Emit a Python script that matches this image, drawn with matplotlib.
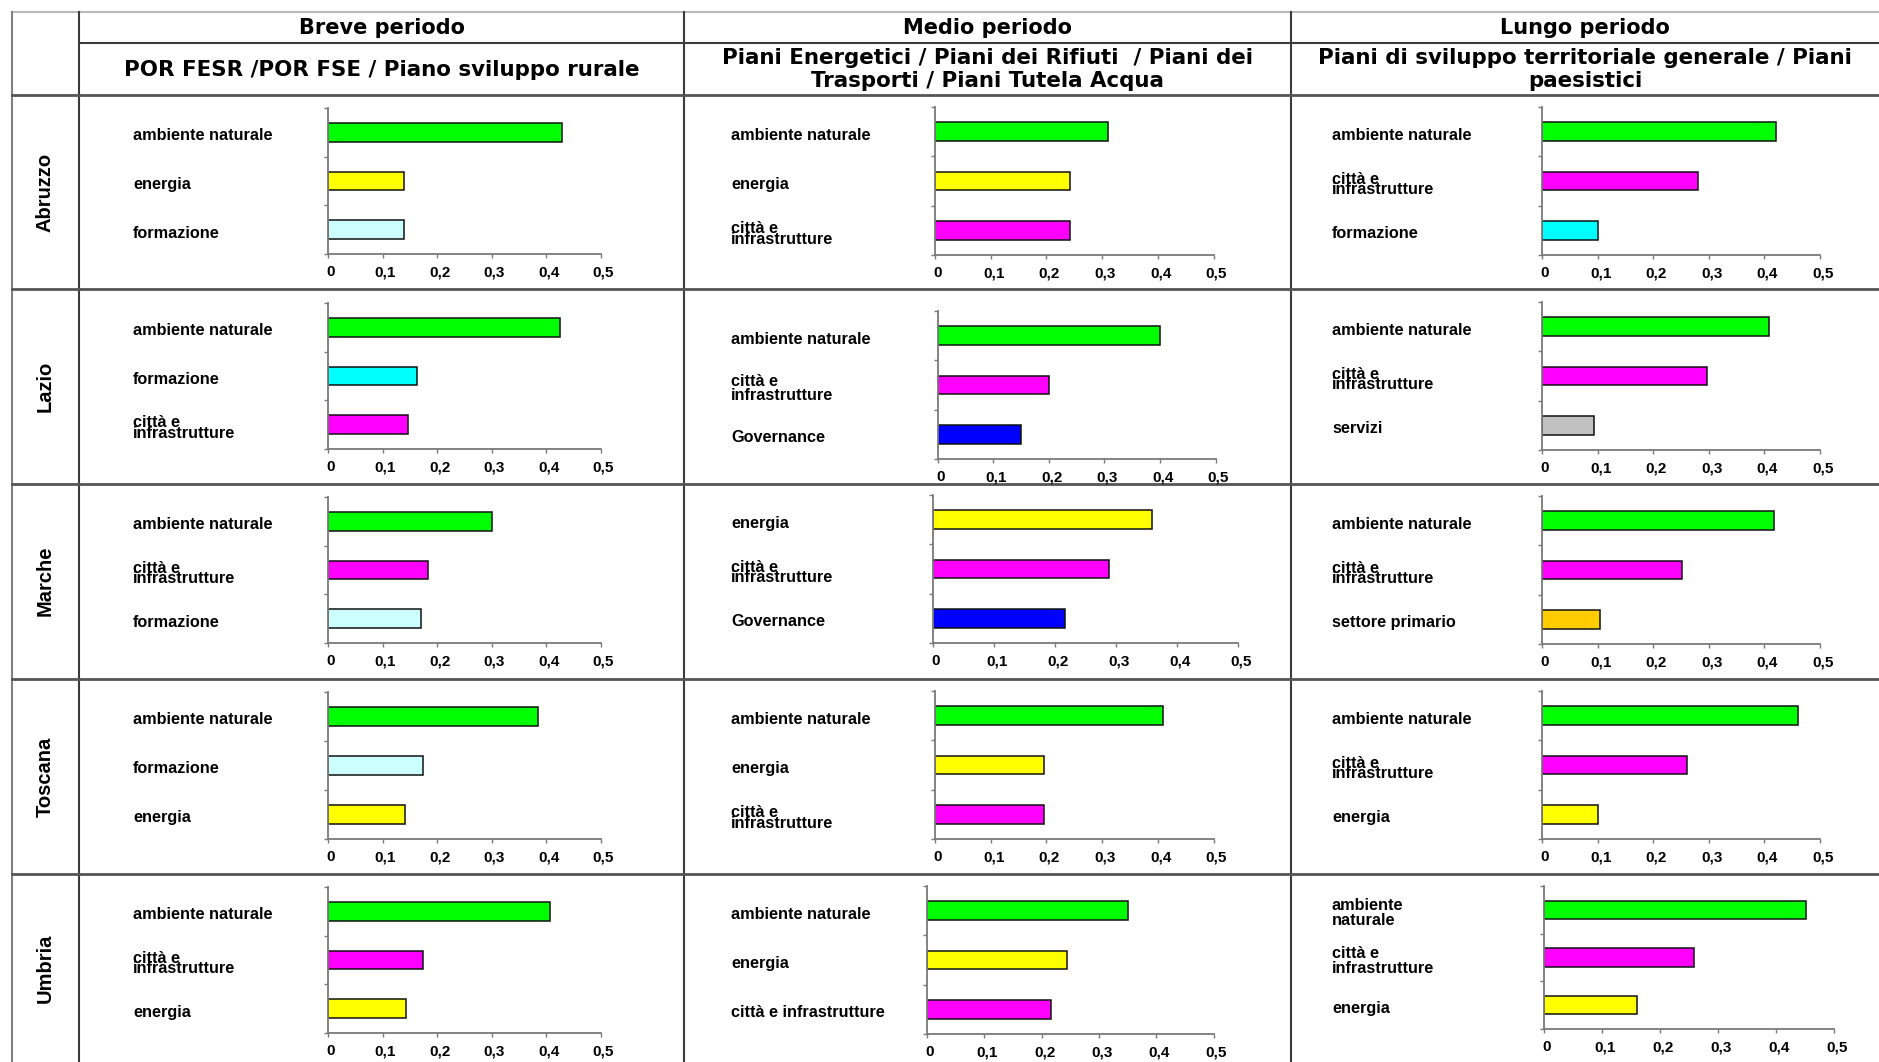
import numpy as np
import matplotlib
matplotlib.use('Agg')
import matplotlib.pyplot as plt
from matplotlib.transforms import ScaledTranslation

# Data ========================================================================
regions = ['Abruzzo', 'Lazio', 'Marche', 'Toscana', 'Umbria']
periods = ['Breve periodo', 'Medio periodo', 'Lungo periodo']
plans = ['POR FESR /POR FSE / Piano sviluppo rurale',
         'Piani Energetici / Piani dei Rifiuti  / Piani dei\nTrasporti / Piani Tutela Acqua',
         'Piani di sviluppo territoriale generale / Piani\npaesistici']

CI = 'città e\ninfrastrutture'

breve_cats = [['ambiente naturale', 'energia', 'formazione'],
              ['ambiente naturale', 'formazione', CI],
              ['ambiente naturale', CI, 'formazione'],
              ['ambiente naturale', 'formazione', 'energia'],
              ['ambiente naturale', CI, 'energia']]
breve_vals = [[0.43, 0.14, 0.14],
              [0.425, 0.164, 0.147],
              [0.30, 0.184, 0.17],
              [0.386, 0.175, 0.141],
              [0.407, 0.175, 0.143]]

medio_cats = [['ambiente naturale', 'energia', CI],
              ['ambiente naturale', CI, 'Governance'],
              ['energia', CI, 'Governance'],
              ['ambiente naturale', 'energia', CI],
              ['ambiente naturale', 'energia', 'città e infrastrutture']]
medio_vals = [[0.31, 0.243, 0.243],
              [0.40, 0.20, 0.151],
              [0.359, 0.288, 0.217],
              [0.41, 0.195, 0.195],
              [0.351, 0.245, 0.217]]

lungo_cats = [['ambiente naturale', CI, 'formazione'],
              ['ambiente naturale', CI, 'servizi'],
              ['ambiente naturale', CI, 'settore primario'],
              ['ambiente naturale', CI, 'energia'],
              ['ambiente\nnaturale', CI, 'energia']]
lungo_vals = [[0.421, 0.28, 0.101],
              [0.408, 0.296, 0.094],
              [0.417, 0.252, 0.105],
              [0.46, 0.26, 0.101],
              [0.451, 0.259, 0.161]]

xticks = [0, 0.1, 0.2, 0.3, 0.4, 0.5]
xticklabels = ['0', '0,1', '0,2', '0,3', '0,4', '0,5']

all_cats = [breve_cats, medio_cats, lungo_cats]
all_vals = [breve_vals, medio_vals, lungo_vals]

# Styles ======================================================================
colors = {'ambiente naturale': '#00ff00', 'ambiente\nnaturale': '#00ff00',
          'energia': '#ffff00', 'formazione': '#ccffff',
          CI: '#ff00ff', 'città e infrastrutture': '#ff00ff',
          'Governance': '#0000ff', 'servizi': '#c0c0c0',
          'settore primario': '#ffcc00'}
strong_cyan = {(1, 0), (0, 2)}          # (region, period) with bright cyan formazione
loose_labels = {(1, 1), (4, 2)}         # cells with normal line spacing

# Layout in pixels (W x H image) ==============================================
W, H = 1879, 1062
col_x = [12, 79, 684.5, 1291, W]
row_y = [12, 95, 289, 483.5, 679, 874, H]
label_x = [133, 731, 1332]
# axis pixel extents per cell: x of value 0, x of value 0.5, y top, y bottom
axis_px = [
    [(328, 600.5, 108, 254), (935, 1213.5, 107, 255), (1542, 1820, 107, 255)],
    [(328, 600.5, 303, 449), (937.5, 1215.5, 311, 459), (1542, 1820, 302, 450)],
    [(328, 600.5, 497, 643), (933, 1238, 495, 643), (1542, 1820, 496, 644)],
    [(328, 600.5, 692, 839), (935, 1213.5, 691, 839), (1542, 1820, 691, 839)],
    [(328, 600.5, 887, 1033), (927, 1213.5, 886, 1034), (1544, 1834, 886, 1029)],
]

fig = plt.figure(figsize=(W / 100, H / 100), dpi=100)
bg = fig.add_axes([0, 0, 1, 1])
bg.set_xlim(0, W)
bg.set_ylim(H, 0)
bg.axis('off')

# table grid
line_c = '#3c3c3c'
bg.plot([col_x[0], W], [row_y[0], row_y[0]], color='#b8b8b8', lw=1.5)
bg.plot([col_x[0], col_x[0]], [row_y[0], H], color='#808080', lw=1.5)
for x in col_x[1:4]:
    bg.plot([x, x], [row_y[0], H], color=line_c, lw=1.5)
bg.plot([col_x[1], W], [43, 43], color=line_c, lw=1.5)
for y in row_y[1:6]:
    bg.plot([col_x[0], W], [y, y], color='#555555', lw=2)

for j in range(3):
    cx = (col_x[j + 1] + col_x[j + 2]) / 2
    bg.text(cx, 28, periods[j], ha='center', va='center', family='DejaVu Sans',
            weight='bold', size=15)
    bg.text(cx, 69.5, plans[j], ha='center', va='center', linespacing=1.2,
            family='DejaVu Sans', weight='bold', size=15.4)

for i, reg in enumerate(regions):
    bg.text((col_x[0] + col_x[1]) / 2, (row_y[i + 1] + row_y[i + 2]) / 2, reg,
            rotation=90, ha='center', va='center', family='Liberation Sans',
            weight='bold', size=14.5, color='black')

# bar charts
shift = ScaledTranslation(3 / 100, 0, fig.dpi_scale_trans)
for i in range(len(regions)):
    for j in range(3):
        x0, x1, yt, yb = axis_px[i][j]
        ax = fig.add_axes([x0 / W, 1 - yb / H, (x1 - x0) / W, (yb - yt) / H])
        cats = all_cats[j][i]
        vals = all_vals[j][i]
        cols = [colors[c] for c in cats]
        if (i, j) in strong_cyan:
            cols = ['#00ffff' if c == 'formazione' else col for c, col in zip(cats, cols)]
        ypos = np.arange(len(cats)) + 0.5
        ax.barh(ypos, vals, height=0.385, color=cols, edgecolor='#111111', linewidth=1.1)
        ax.set_xlim(0, 0.5)
        ax.set_ylim(3, 0)
        ax.patch.set_alpha(0)
        for s in ['top', 'right']:
            ax.spines[s].set_visible(False)
        for s in ['left', 'bottom']:
            ax.spines[s].set_color('#7a7a7a')
            ax.spines[s].set_linewidth(1.3)
        ax.set_yticks([0, 1, 2, 3])
        ax.set_yticklabels([])
        ax.tick_params(direction='out', length=3, width=1, color='#7a7a7a', pad=5)
        ax.set_xticks(xticks)
        ax.set_xticklabels(xticklabels, family='Liberation Sans', weight='bold', size=11)
        for lab in ax.get_xticklabels():
            lab.set_transform(lab.get_transform() + shift)
        lx = (label_x[j] - x0) / (x1 - x0)
        for k, c in enumerate(cats):
            ls = 0.95 if ((i, j) in loose_labels or c.startswith('ambiente')) else 0.62
            ax.text(lx, ypos[k] + 0.07, c, transform=ax.get_yaxis_transform(),
                    ha='left', va='center', linespacing=ls, family='Liberation Sans',
                    weight='bold', size=11.7, color='black', clip_on=False)

fig.savefig('out.png', dpi=100, facecolor='white')
